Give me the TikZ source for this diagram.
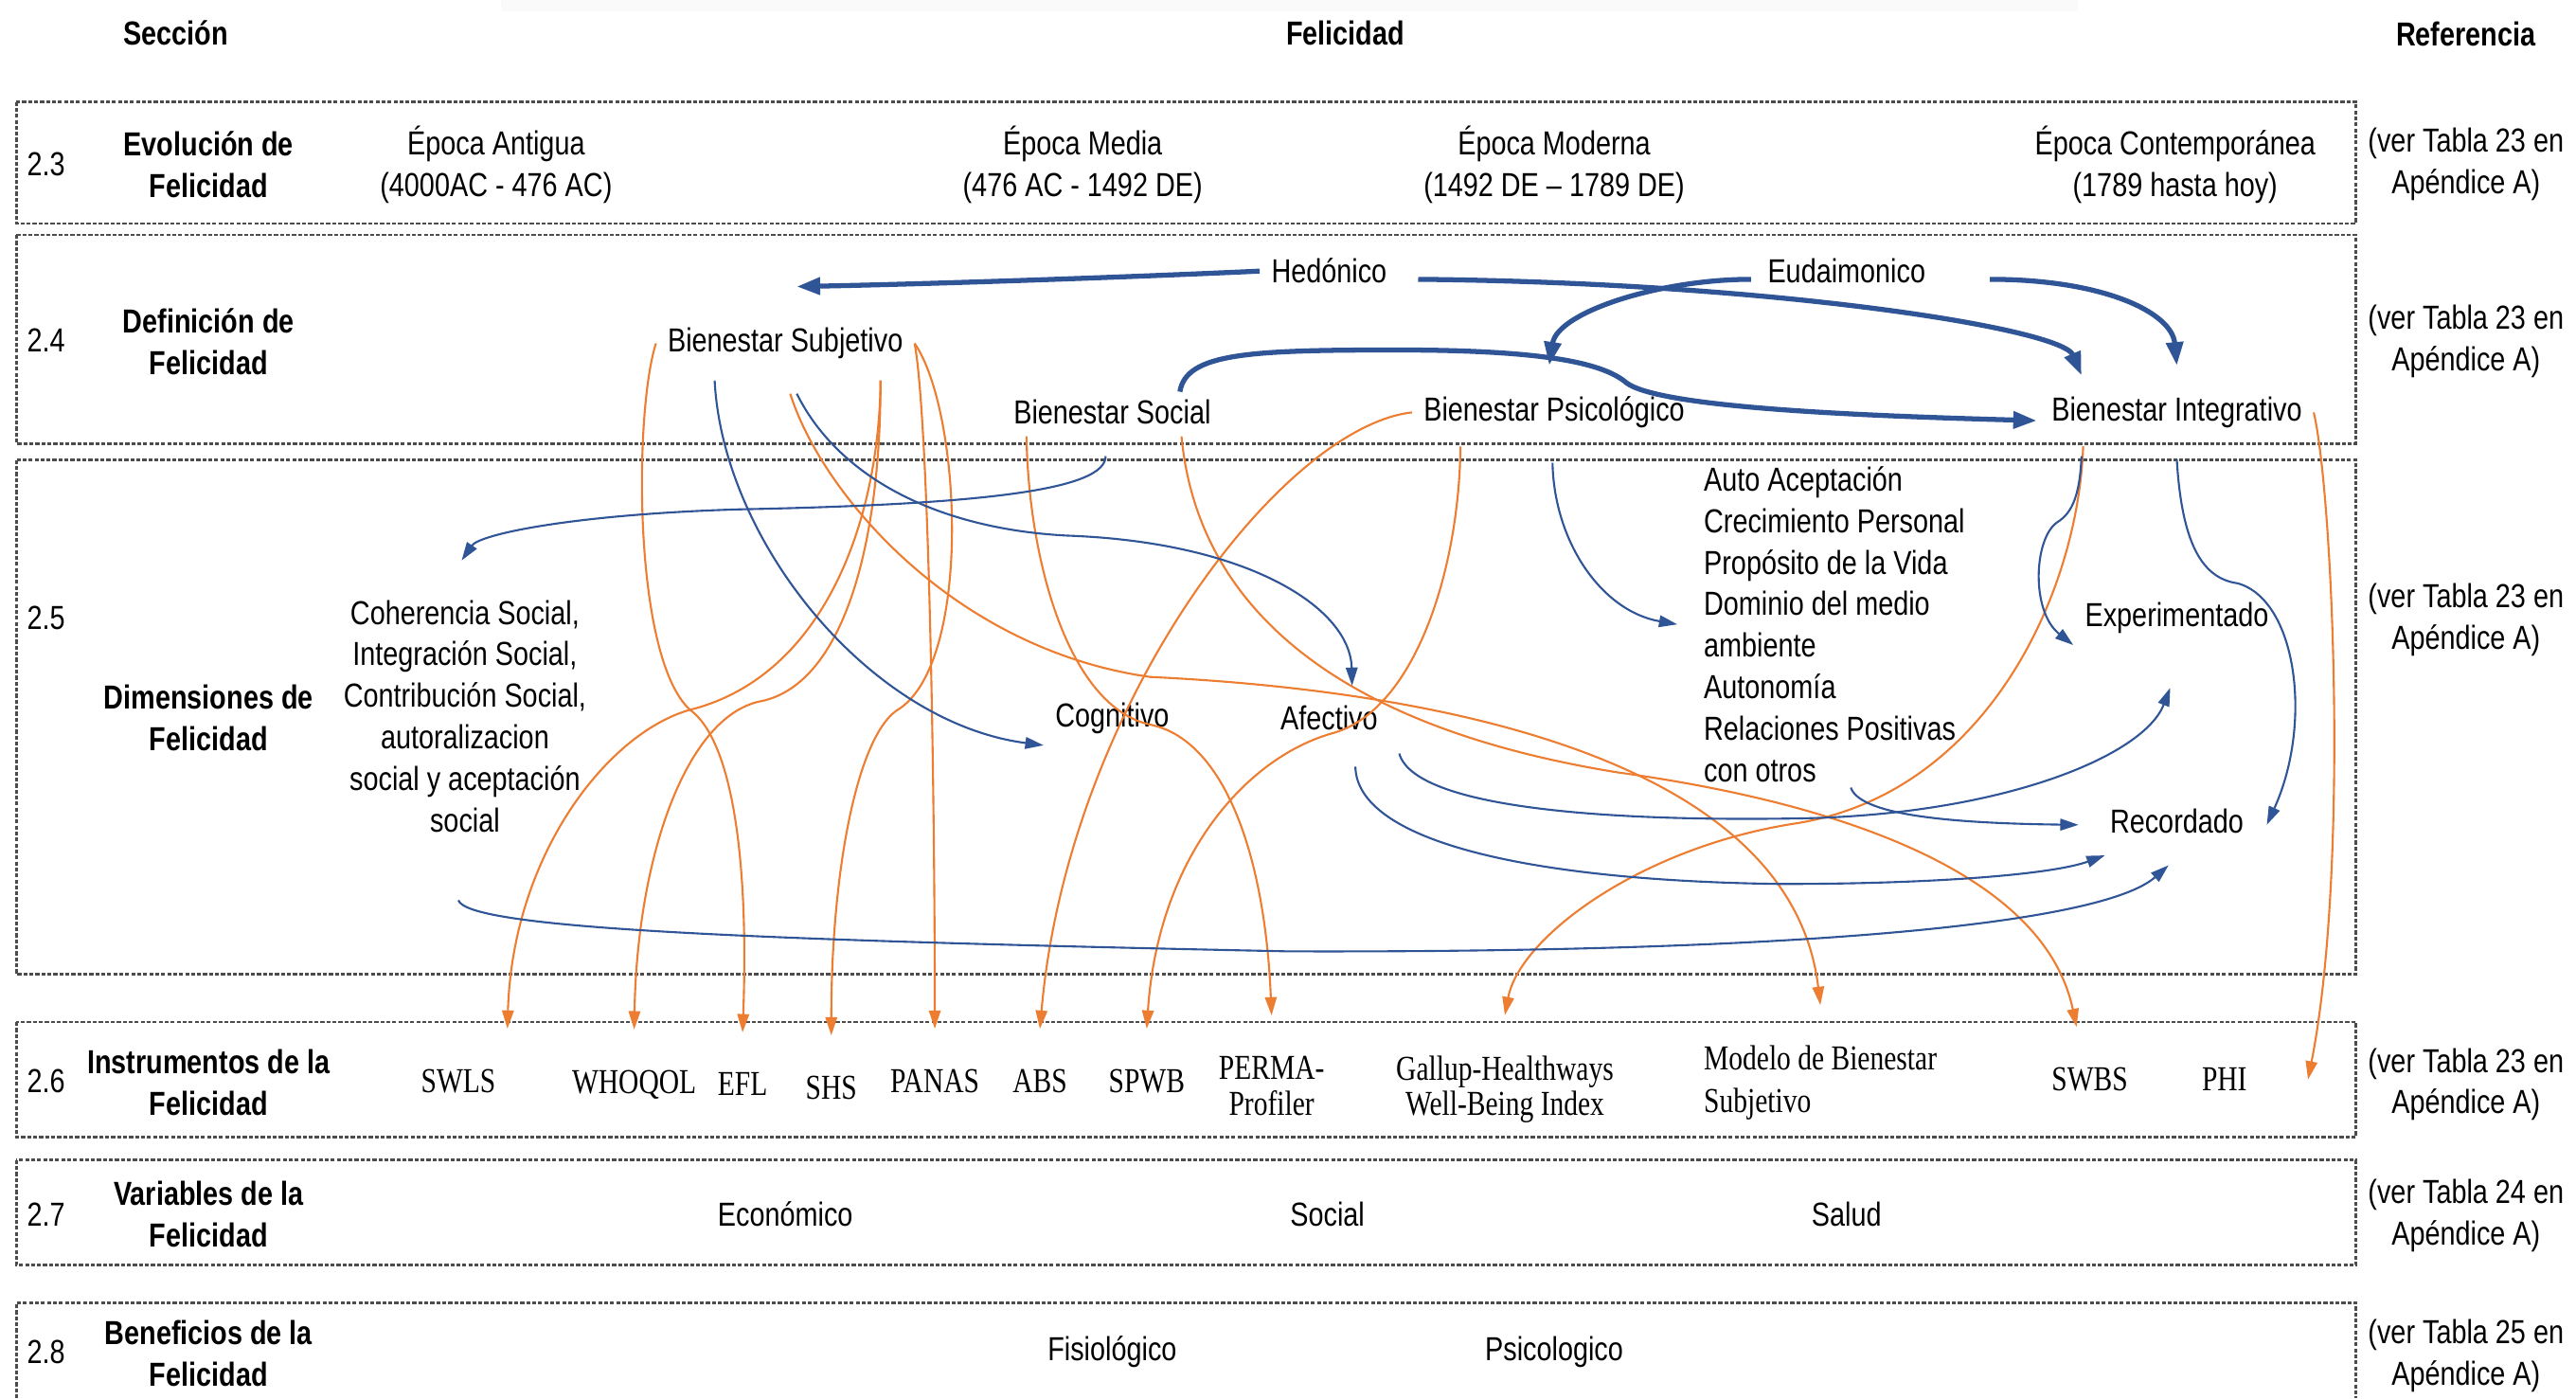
\documentclass[tikz,border=0pt]{standalone}
\usepackage{fontspec}
\setmainfont{Liberation Sans}[FakeStretch=0.82]
\newfontfamily\instrfont{Liberation Serif}[FakeStretch=0.8]
\usepackage{tikz}
\usetikzlibrary{arrows.meta,calc}
\definecolor{flowblue}{RGB}{47,85,151}
\definecolor{floworange}{RGB}{237,125,49}
\tikzset{
  sec/.style={draw=black!70, line width=0.8pt, dash pattern=on 1.2pt off 0.6pt},
  txt/.style={font=\fontsize{10}{12.5}\selectfont, align=center},
  hdr/.style={font=\fontsize{10}{12.5}\selectfont\bfseries, align=center},
  instr/.style={font=\instrfont\fontsize{10.5}{11}\selectfont, align=center, inner ysep=12pt},
  tflow/.style={draw=flowblue, line width=1.5pt, -{Triangle[length=7pt,width=5pt]}},
  bflow/.style={draw=flowblue, line width=0.6pt, -{Triangle[length=5.5pt,width=3.5pt]}},
  oflow/.style={draw=floworange, line width=0.6pt, -{Triangle[length=5.5pt,width=3.5pt]}}
}
\begin{document}
\begin{tikzpicture}[x=0.017347cm, y=-0.017347cm]
\useasboundingbox (0,0) rectangle (1568,851);
\fill[black!2] (305,0) rectangle (1265,7);
%% header
\node[hdr] (hsec) at (107,20) {Sección};
\node[hdr] (hfel) at (819,20) {Felicidad};
\node[hdr] (href) at (1501,21) {Referencia};
%% frames
\draw[sec] (10,62) rectangle (1434,136);
\draw[sec] (10,143) rectangle (1434,270);
\draw[sec] (10,280) rectangle (1434,593);
\draw[sec] (10,622) rectangle (1434,692);
\draw[sec] (10,706) rectangle (1434,770);
\draw[sec] (10,851) -- (10,793) -- (1434,793) -- (1434,851);
%% section column
\foreach \y/\n [count=\i] in {100/2.3, 207/2.4, 376/2.5, 658/2.6, 739/2.7, 823/2.8}
  \node[txt] (num\i) at (28,\y) {\n};
\node[hdr] (tit1) at (127,100) {Evolución de\\Felicidad};
\node[hdr] (tit2) at (127,208) {Definición de\\Felicidad};
\node[hdr] (tit3) at (127,437) {Dimensiones de\\Felicidad};
\node[hdr] (tit4) at (127,659) {Instrumentos de la\\Felicidad};
\node[hdr] (tit5) at (127,739) {Variables de la\\Felicidad};
\node[hdr] (tit6) at (127,824) {Beneficios de la\\Felicidad};
%% reference column
\foreach \y/\t [count=\i] in {100/23, 208/23, 377/23, 660/23, 740/24, 825/25}
  \node[txt] (ref\i) at (1501,\y) {(ver Tabla \t{} en\\Apéndice A)};
%% 2.3
\node[txt] (ant) at (302,100) {Época Antigua\\(4000AC - 476 AC)};
\node[txt] (med) at (659,100) {Época Media\\(476 AC - 1492 DE)};
\node[txt] (mod) at (946,100) {Época Moderna\\(1492 DE – 1789 DE)};
\node[txt] (con) at (1324,100) {Época Contemporánea\\(1789 hasta hoy)};
%% 2.4
\node[txt] (hed) at (809,165) {Hedónico};
\node[txt] (eud) at (1124,165) {Eudaimonico};
\node[txt] (bsub) at (478,209) {Bienestar Subjetivo};
\node[txt] (bsoc) at (677,251) {Bienestar Social};
\node[txt] (bpsi) at (946,251) {Bienestar Psicológico};
\node[txt] (bint) at (1325,251) {Bienestar Integrativo};
%% 2.5
\node[txt] (dsoc) at (283,436) {Coherencia Social,\\Integración Social,\\Contribución Social,\\autoralizacion\\social y aceptación\\social};
\node[txt] (cog) at (677,437) {Cognitivo};
\node[txt] (afe) at (809,437) {Afectivo};
\node[txt, align=left, anchor=west] (dpsi) at (1030,380) {Auto Aceptación\\Crecimiento Personal\\Propósito de la Vida\\Dominio del medio\\ambiente\\Autonomía\\Relaciones Positivas\\con otros};
\node[txt] (exper) at (1325,376) {Experimentado};
\node[txt] (recor) at (1325,500) {Recordado};
%% 2.6
\node[instr] (swls) at (279,658) {SWLS};
\node[instr] (whoqol) at (386,660) {WHOQOL};
\node[instr] (efl) at (452,660) {EFL};
\node[instr] (shs) at (506,662) {SHS};
\node[instr] (panas) at (569,658) {PANAS};
\node[instr] (abs) at (633,658) {ABS};
\node[instr] (spwb) at (698,658) {SPWB};
\node[instr] (perma) at (774,661) {PERMA-\\Profiler};
\node[instr, font=\instrfont\fontsize{10.5}{10.6}\selectfont] (gallup) at (916,663) {Gallup-Healthways\\Well-Being Index};
\node[instr, font=\instrfont\fontsize{10.5}{12.8}\selectfont, align=left, anchor=west] (modelo) at (1030,659) {Modelo de Bienestar\\Subjetivo};
\node[instr] (swbs) at (1272,657) {SWBS};
\node[instr] (phi) at (1354,657) {PHI};
%% 2.7 and 2.8
\node[txt] (eco) at (478,739) {Económico};
\node[txt] (soc) at (808,739) {Social};
\node[txt] (sal) at (1124,739) {Salud};
\node[txt] (fis) at (677,823) {Fisiológico};
\node[txt] (psi) at (946,823) {Psicologico};
%% Flows (instrumentos)
\draw[oflow] (bsub.west) .. controls (386,250) and (385,400) .. (420,432) .. controls (445,450) and (456,520) .. (efl.north);
\draw[oflow] ($(bsub.south)+(58,6)$) .. controls (535,320) and (500,412) .. (420,432) .. controls (370,446) and (312,520) .. (swls.north east);
\draw[oflow] ($(bsub.south)+(58,6)$) .. controls (536,335) and (512,418) .. (462,427) .. controls (418,437) and (388,520) .. (whoqol.north);
\draw[oflow] (bsub.east) .. controls (566,260) and (569,500) .. (panas.north);
\draw[oflow] (bsub.east) .. controls (585,250) and (592,400) .. (548,431) .. controls (522,445) and (506,530) .. (shs.north);
\draw[oflow] ($(bsub.south)+(3,14)$) .. controls (500,300) and (580,395) .. (700,412) .. controls (870,420) and (1090,460) .. (modelo.north);
\draw[oflow] ($(bsoc.south east)+(-25,0)$) .. controls (728,360) and (800,440) .. (984,470) .. controls (1130,490) and (1245,535) .. ($(swbs.north)+(-8,0)$);
\draw[oflow] ($(bsoc.south west)+(15,0)$) .. controls (626,340) and (650,430) .. (700,441) .. controls (745,450) and (770,520) .. (perma.north);
\draw[oflow] (bpsi.west) .. controls (780,260) and (650,430) .. (abs.north);
\draw[oflow] ($(bpsi.south)+(-57,4)$) .. controls (888,350) and (860,432) .. (812,446) .. controls (760,460) and (705,520) .. (spwb.north);
\draw[oflow] ($(bint.south)+(-57,4)$) .. controls (1265,360) and (1210,482) .. (1094,501) .. controls (1000,515) and (925,570) .. (gallup.north);
\draw[oflow] (bint.east) .. controls (1420,300) and (1430,530) .. ($(phi.east)+(30,0)$);
%% Flows (definicion)
\draw[tflow] (hed.west) .. controls (680,169) and (560,173) .. ($(bsub.north)+(7,-18)$);
\draw[tflow] ($(hed.east)+(12,5)$) .. controls (1080,172) and (1255,200) .. ($(bint.north)+(-58,-6)$);
\draw[tflow] ($(eud.west)+(-3,5)$) .. controls (1010,170) and (948,190) .. ($(bpsi.north)+(-3,-12)$);
\draw[tflow] ($(eud.east)+(32,5)$) .. controls (1280,170) and (1322,190) .. ($(bint.north)+(0,-12)$);
\draw[tflow] ($(bsoc.north east)+(-26,2)$) .. controls (722,215) and (760,213) .. (850,213) .. controls (935,213) and (975,220) .. (990,233) .. controls (1010,248) and (1130,253) .. ($(bint.west)+(-2,5)$);
%% Flows (dimensiones)
\draw[bflow] ($(bsoc.south)+(-4,12)$) .. controls (673,298) and (600,307) .. (450,310) .. controls (350,313) and (292,325) .. ($(dsoc.north)+(-2,-17)$);
\draw[bflow] ($(bsub.south)+(-43,6)$) .. controls (440,330) and (530,440) .. (cog.south west);
\draw[bflow] ($(bsub.south)+(7,14)$) .. controls (510,290) and (570,322) .. (650,326) .. controls (760,330) and (822,370) .. ($(afe.north)+(14,-5)$);
\draw[bflow] ($(bpsi.south)+(-1,14)$) .. controls (946,330) and (975,372) .. ($(dpsi.west)+(-9,0)$);
\draw[bflow] ($(bint.south)+(-58,10)$) .. controls (1266,300) and (1262,312) .. (1252,318) .. controls (1238,328) and (1236,372) .. (exper.south west);
\draw[bflow] ($(bint.south)+(0,12)$) .. controls (1328,330) and (1340,352) .. (1362,355) .. controls (1398,365) and (1408,440) .. ($(recor.east)+(7,2)$);
\draw[bflow] ($(afe.south east)+(6,7)$) .. controls (862,495) and (1000,500) .. (1100,498) .. controls (1220,495) and (1305,460) .. ($(exper.south)+(-4,26)$);
\draw[bflow] ($(afe.south)+(16,15)$) .. controls (826,512) and (930,536) .. (1084,538) .. controls (1180,538) and (1250,532) .. ($(recor.south west)+(4,6)$);
\draw[bflow] ($(dpsi.south)+(10,-4)$) .. controls (1132,495) and (1180,501) .. ($(recor.west)+(-12,2)$);
\draw[bflow] ($(dsoc.south)+(-4,34)$) .. controls (285,565) and (450,572) .. (784,579) .. controls (1100,580) and (1280,562) .. ($(recor.south)+(-5,12)$);
\end{tikzpicture}
\end{document}
